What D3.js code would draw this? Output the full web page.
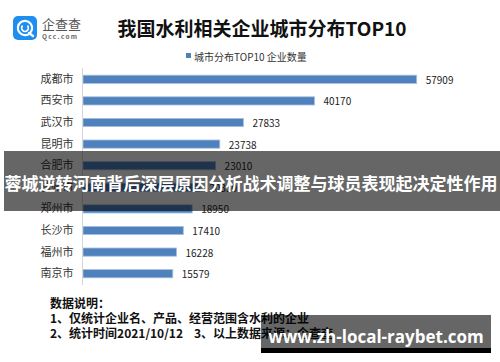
<!DOCTYPE html>
<html>
<head>
<meta charset="utf-8">
<script src="https://cdn.jsdelivr.net/npm/d3@7"></script>
<style>
	html, body { margin: 0; padding: 0; background: #fff; }
	svg { display: block; font-family: "Noto Sans CJK SC", "Noto Sans", sans-serif; }
</style>
</head>
<body>
<div id="chart"></div>
<script>
var cities = ['成都市', '西安市', '武汉市', '昆明市', '合肥市', '杭州市', '郑州市', '长沙市', '福州市', '南京市'];
var counts = [57909, 40170, 27833, 23738, 23010, 20350, 18950, 17410, 16228, 15579];
var legendLabel = '城市分布TOP10 企业数量';
var titleText = '我国水利相关企业城市分布TOP10';
var notes = ['数据说明：', '1、仅统计企业名、产品、经营范围含水利的企业', '2、统计时间2021/10/12\u00a0\u00a0\u00a0 3、以上数据来源：企查查'];
var bannerText = '蓉城逆转河南背后深层原因分析战术调整与球员表现起决定性作用';
var siteText = 'www.zh-local-raybet.com';

var width = 500, height = 362;
var barColor = '#4f81bd';

var svg = d3.select('#chart').append('svg')
	.attr('width', width)
	.attr('height', height);

// logo
var logo = svg.append('g');
logo.append('rect')
	.attr('x', 13).attr('y', 16).attr('width', 24).attr('height', 24).attr('rx', 5)
	.attr('fill', '#1f8ef1');
logo.append('path')
	.attr('d', d3.arc()({innerRadius: 6, outerRadius: 8.2, startAngle: 0.55 * Math.PI, endAngle: 2.6 * Math.PI}))
	.attr('transform', 'translate(25,28)')
	.attr('fill', '#fff');
logo.append('path')
	.attr('d', d3.arc()({innerRadius: 2.6, outerRadius: 4.2, startAngle: 0.25 * Math.PI, endAngle: 1.75 * Math.PI}))
	.attr('transform', 'translate(25,28)')
	.attr('fill', '#fff');
logo.append('line')
	.attr('x1', 29).attr('y1', 33).attr('x2', 33).attr('y2', 36)
	.attr('stroke', '#fff').attr('stroke-width', 2.2).attr('stroke-linecap', 'round');
logo.append('text')
	.attr('x', 42).attr('y', 29)
	.attr('font-size', 13).attr('fill', '#555')
	.text('企查查');
logo.append('text')
	.attr('x', 42).attr('y', 39)
	.attr('font-size', 6.5).attr('font-weight', 'bold').attr('letter-spacing', 1.3)
	.attr('fill', '#666')
	.text('Qcc.com');

// title
svg.append('text')
	.attr('x', 262).attr('y', 36)
	.attr('text-anchor', 'middle')
	.attr('font-size', 19).attr('font-weight', 'bold').attr('fill', '#111')
	.text(titleText);

// legend
svg.append('rect')
	.attr('x', 186).attr('y', 53).attr('width', 5).attr('height', 5)
	.attr('fill', barColor);
svg.append('text')
	.attr('x', 194).attr('y', 56)
	.attr('dominant-baseline', 'central')
	.attr('font-size', 10).attr('fill', '#333')
	.text(legendLabel);

// scales
var x = d3.scaleLinear()
	.domain([0, d3.max(counts)])
	.range([83, 416.7]);

var y = d3.scaleBand()
	.domain(cities)
	.range([68.5, 284.5])
	.paddingInner(0.62)
	.paddingOuter(0.31);

var rows = cities.map(function (c, i) {
	return {city: c, value: counts[i]};
});

// bars
svg.append('g').selectAll('rect')
	.data(rows)
	.enter().append('rect')
	.attr('x', x(0))
	.attr('y', function (d) { return y(d.city); })
	.attr('width', function (d) { return x(d.value) - x(0); })
	.attr('height', y.bandwidth())
	.attr('fill', barColor)
	.attr('stroke', '#a7c0df')
	.attr('stroke-width', 0.8);

// value labels
svg.append('g').selectAll('text')
	.data(rows)
	.enter().append('text')
	.attr('x', function (d) { return x(d.value) + 9; })
	.attr('y', function (d) { return y(d.city) + y.bandwidth() / 2; })
	.attr('dominant-baseline', 'central')
	.attr('font-size', 10).attr('fill', '#222')
	.text(function (d) { return d.value; });

// category axis
var axis = svg.append('g')
	.attr('transform', 'translate(82.5,0)')
	.call(d3.axisLeft(y).tickSize(0).tickPadding(9));
axis.select('.domain').attr('stroke', '#d6d6d6').attr('d', 'M0,68V285');
axis.selectAll('text')
	.attr('font-size', 11).attr('fill', '#333')
	.attr('font-family', '"Noto Sans CJK SC", sans-serif');

// notes
svg.append('g').selectAll('text')
	.data(notes)
	.enter().append('text')
	.attr('x', 50)
	.attr('y', function (d, i) { return 302 + i * 15; })
	.attr('dominant-baseline', 'central')
	.attr('font-size', 12).attr('font-weight', 'bold').attr('fill', '#111')
	.text(function (d) { return d; });

// overlay banner
svg.append('rect')
	.attr('x', 4).attr('y', 151).attr('width', 496).attr('height', 60)
	.attr('fill', '#000').attr('fill-opacity', 0.6);
svg.append('text')
	.attr('x', 251).attr('y', 182.5)
	.attr('text-anchor', 'middle').attr('dominant-baseline', 'central')
	.attr('font-size', 17).attr('font-weight', 'bold').attr('fill', '#fff')
	.text(bannerText);

// site box
svg.append('rect')
	.attr('x', 261).attr('y', 315).attr('width', 230).attr('height', 33)
	.attr('fill', '#000').attr('fill-opacity', 0.6);
svg.append('rect')
	.attr('x', 261).attr('y', 348).attr('width', 230).attr('height', 5)
	.attr('fill', '#000');
svg.append('text')
	.attr('x', 376).attr('y', 336)
	.attr('text-anchor', 'middle').attr('dominant-baseline', 'central')
	.attr('font-family', '"Open Sans", "Noto Sans", sans-serif')
	.attr('font-size', 17).attr('font-weight', 'bold').attr('fill', '#fff')
	.text(siteText);
</script>
</body>
</html>
